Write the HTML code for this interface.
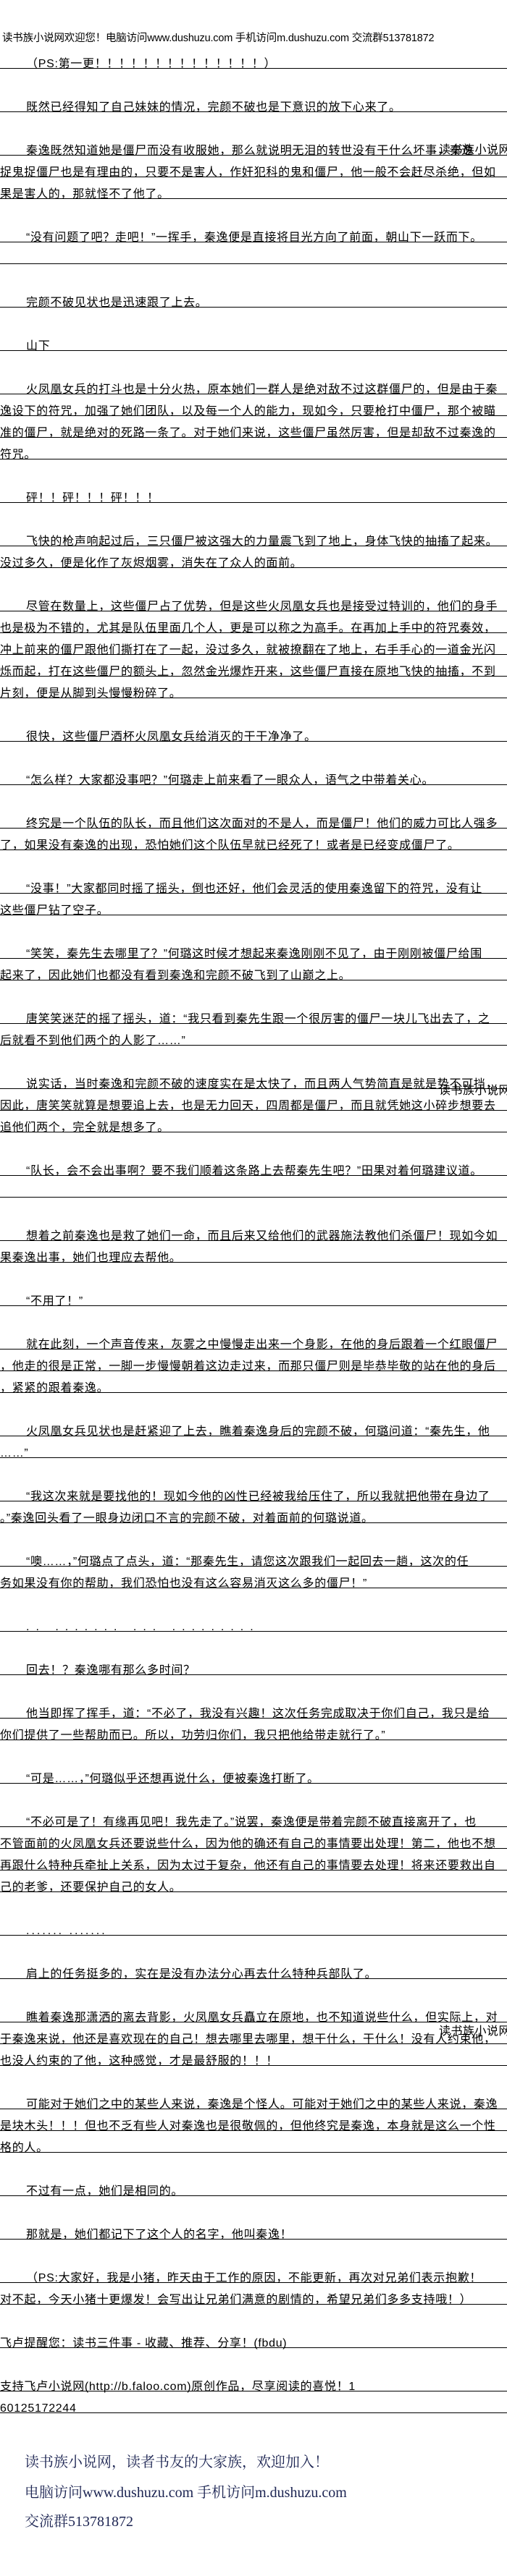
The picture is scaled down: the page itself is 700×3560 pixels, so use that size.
<!DOCTYPE html>
<html><head><meta charset="utf-8">
<style>
html,body{margin:0;padding:0;background:#fff;}
body{width:700px;height:3560px;position:relative;overflow:hidden;font-family:"Liberation Sans","Noto Sans CJK SC",sans-serif;color:#000;}
.l{position:absolute;left:0;width:700px;height:30px;border-bottom:1px solid #000;box-sizing:border-box;white-space:nowrap;font-size:16px;line-height:18px;padding-top:15px;letter-spacing:0.7px;}
.n{border-bottom:none;}
.i{padding-left:36px;}
.wm{position:absolute;font-size:16px;line-height:18px;white-space:nowrap;letter-spacing:0.5px;}
.f{position:absolute;left:34px;font-family:"Liberation Serif","Noto Serif CJK SC",serif;font-size:20px;line-height:24px;color:#1c2452;white-space:nowrap;}
</style></head><body>
<div class="l n" style="top:35px;padding-top:9px;padding-left:3px;font-size:14.5px;letter-spacing:-0.2px">读书族小说网欢迎您！电脑访问www.dushuzu.com 手机访问m.dushuzu.com 交流群513781872</div>
<div class="l i" style="top:65px">（PS:第一更！！！！！！！！！！！！！！）</div>
<div class="l i" style="top:125px">既然已经得知了自己妹妹的情况，完颜不破也是下意识的放下心来了。</div>
<div class="l i" style="top:185px">秦逸既然知道她是僵尸而没有收服她，那么就说明无泪的转世没有干什么坏事，秦逸</div>
<div class="l" style="top:215px">捉鬼捉僵尸也是有理由的，只要不是害人，作奸犯科的鬼和僵尸，他一般不会赶尽杀绝，但如</div>
<div class="l" style="top:245px">果是害人的，那就怪不了他了。</div>
<div class="l i" style="top:305px">“没有问题了吧？走吧！”一挥手，秦逸便是直接将目光方向了前面，朝山下一跃而下。</div>
<div class="l" style="top:335px"></div>
<div class="l i" style="top:395px">完颜不破见状也是迅速跟了上去。</div>
<div class="l i" style="top:455px">山下</div>
<div class="l i" style="top:515px">火凤凰女兵的打斗也是十分火热，原本她们一群人是绝对敌不过这群僵尸的，但是由于秦</div>
<div class="l" style="top:545px">逸设下的符咒，加强了她们团队，以及每一个人的能力，现如今，只要枪打中僵尸，那个被瞄</div>
<div class="l" style="top:575px">准的僵尸，就是绝对的死路一条了。对于她们来说，这些僵尸虽然厉害，但是却敌不过秦逸的</div>
<div class="l" style="top:605px">符咒。</div>
<div class="l i" style="top:665px">砰！！砰！！！砰！！！</div>
<div class="l i" style="top:725px">飞快的枪声响起过后，三只僵尸被这强大的力量震飞到了地上，身体飞快的抽搐了起来。</div>
<div class="l" style="top:755px">没过多久，便是化作了灰烬烟雾，消失在了众人的面前。</div>
<div class="l i" style="top:815px">尽管在数量上，这些僵尸占了优势，但是这些火凤凰女兵也是接受过特训的，他们的身手</div>
<div class="l" style="top:845px">也是极为不错的，尤其是队伍里面几个人，更是可以称之为高手。在再加上手中的符咒奏效，</div>
<div class="l" style="top:875px">冲上前来的僵尸跟他们撕打在了一起，没过多久，就被撩翻在了地上，右手手心的一道金光闪</div>
<div class="l" style="top:905px">烁而起，打在这些僵尸的额头上，忽然金光爆炸开来，这些僵尸直接在原地飞快的抽搐，不到</div>
<div class="l" style="top:935px">片刻，便是从脚到头慢慢粉碎了。</div>
<div class="l i" style="top:995px">很快，这些僵尸酒杯火凤凰女兵给消灭的干干净净了。</div>
<div class="l i" style="top:1055px">“怎么样？大家都没事吧？”何璐走上前来看了一眼众人，语气之中带着关心。</div>
<div class="l i" style="top:1115px">终究是一个队伍的队长，而且他们这次面对的不是人，而是僵尸！他们的威力可比人强多</div>
<div class="l" style="top:1145px">了，如果没有秦逸的出现，恐怕她们这个队伍早就已经死了！或者是已经变成僵尸了。</div>
<div class="l i" style="top:1205px">“没事！”大家都同时摇了摇头，倒也还好，他们会灵活的使用秦逸留下的符咒，没有让</div>
<div class="l" style="top:1235px">这些僵尸钻了空子。</div>
<div class="l i" style="top:1295px">“笑笑，秦先生去哪里了？”何璐这时候才想起来秦逸刚刚不见了，由于刚刚被僵尸给围</div>
<div class="l" style="top:1325px">起来了，因此她们也都没有看到秦逸和完颜不破飞到了山巅之上。</div>
<div class="l i" style="top:1385px">唐笑笑迷茫的摇了摇头，道：“我只看到秦先生跟一个很厉害的僵尸一块儿飞出去了，之</div>
<div class="l" style="top:1415px">后就看不到他们两个的人影了……”</div>
<div class="l i" style="top:1475px">说实话，当时秦逸和完颜不破的速度实在是太快了，而且两人气势简直是就是势不可挡，</div>
<div class="l" style="top:1505px">因此，唐笑笑就算是想要追上去，也是无力回天，四周都是僵尸，而且就凭她这小碎步想要去</div>
<div class="l" style="top:1535px">追他们两个，完全就是想多了。</div>
<div class="l i" style="top:1595px">“队长，会不会出事啊？要不我们顺着这条路上去帮秦先生吧？”田果对着何璐建议道。</div>
<div class="l" style="top:1625px"></div>
<div class="l i" style="top:1685px">想着之前秦逸也是救了她们一命，而且后来又给他们的武器施法教他们杀僵尸！现如今如</div>
<div class="l" style="top:1715px">果秦逸出事，她们也理应去帮他。</div>
<div class="l i" style="top:1775px">“不用了！”</div>
<div class="l i" style="top:1835px">就在此刻，一个声音传来，灰雾之中慢慢走出来一个身影，在他的身后跟着一个红眼僵尸</div>
<div class="l" style="top:1865px">，他走的很是正常，一脚一步慢慢朝着这边走过来，而那只僵尸则是毕恭毕敬的站在他的身后</div>
<div class="l" style="top:1895px">，紧紧的跟着秦逸。</div>
<div class="l i" style="top:1955px">火凤凰女兵见状也是赶紧迎了上去，瞧着秦逸身后的完颜不破，何璐问道：“秦先生，他</div>
<div class="l" style="top:1985px">……”</div>
<div class="l i" style="top:2045px">“我这次来就是要找他的！现如今他的凶性已经被我给压住了，所以我就把他带在身边了</div>
<div class="l" style="top:2075px">。”秦逸回头看了一眼身边闭口不言的完颜不破，对着面前的何璐说道。</div>
<div class="l i" style="top:2135px">“噢……，”何璐点了点头，道：“那秦先生，请您这次跟我们一起回去一趟，这次的任</div>
<div class="l" style="top:2165px">务如果没有你的帮助，我们恐怕也没有这么容易消灭这么多的僵尸！”</div>
<div class="l i" style="top:2225px;letter-spacing:9px">.. .......  ... .........</div>
<div class="l i" style="top:2285px">回去！？秦逸哪有那么多时间？</div>
<div class="l i" style="top:2345px">他当即挥了挥手，道：“不必了，我没有兴趣！这次任务完成取决于你们自己，我只是给</div>
<div class="l" style="top:2375px">你们提供了一些帮助而已。所以，功劳归你们，我只把他给带走就行了。”</div>
<div class="l i" style="top:2435px">“可是……，”何璐似乎还想再说什么，便被秦逸打断了。</div>
<div class="l i" style="top:2495px">“不必可是了！有缘再见吧！我先走了。”说罢，秦逸便是带着完颜不破直接离开了，也</div>
<div class="l" style="top:2525px">不管面前的火凤凰女兵还要说些什么，因为他的确还有自己的事情要出处理！第二，他也不想</div>
<div class="l" style="top:2555px">再跟什么特种兵牵扯上关系，因为太过于复杂，他还有自己的事情要去处理！将来还要救出自</div>
<div class="l" style="top:2585px">己的老爹，还要保护自己的女人。</div>
<div class="l i" style="top:2645px;letter-spacing:3px">....... .......</div>
<div class="l i" style="top:2705px">肩上的任务挺多的，实在是没有办法分心再去什么特种兵部队了。</div>
<div class="l i" style="top:2765px">瞧着秦逸那潇洒的离去背影，火凤凰女兵矗立在原地，也不知道说些什么，但实际上，对</div>
<div class="l" style="top:2795px">于秦逸来说，他还是喜欢现在的自己！想去哪里去哪里，想干什么，干什么！没有人约束他，</div>
<div class="l" style="top:2825px">也没人约束的了他，这种感觉，才是最舒服的！！！</div>
<div class="l i" style="top:2885px">可能对于她们之中的某些人来说，秦逸是个怪人。可能对于她们之中的某些人来说，秦逸</div>
<div class="l" style="top:2915px">是块木头！！！但也不乏有些人对秦逸也是很敬佩的，但他终究是秦逸，本身就是这么一个性</div>
<div class="l" style="top:2945px">格的人。</div>
<div class="l i" style="top:3005px">不过有一点，她们是相同的。</div>
<div class="l i" style="top:3065px">那就是，她们都记下了这个人的名字，他叫秦逸！</div>
<div class="l i" style="top:3125px">（PS:大家好，我是小猪，昨天由于工作的原因，不能更新，再次对兄弟们表示抱歉！</div>
<div class="l" style="top:3155px">对不起，今天小猪十更爆发！会写出让兄弟们满意的剧情的，希望兄弟们多多支持哦！）</div>
<div class="l" style="top:3215px">飞卢提醒您：读书三件事 - 收藏、推荐、分享！(fbdu)</div>
<div class="l" style="top:3275px">支持飞卢小说网(http://b.faloo.com)原创作品，尽享阅读的喜悦！1</div>
<div class="l" style="top:3305px">60125172244</div>

<div class="wm" style="left:606px;top:1499px">读书族小说网</div>
<div class="wm" style="left:606px;top:2799px">读书族小说网</div>
<div class="wm" style="left:606px;top:199px">读书族小说网</div>

<div class="f" style="top:3391px">读书族小说网，读者书友的大家族，欢迎加入！</div>
<div class="f" style="top:3433px">电脑访问www.dushuzu.com 手机访问m.dushuzu.com</div>
<div class="f" style="top:3473px">交流群513781872</div>
</body></html>
